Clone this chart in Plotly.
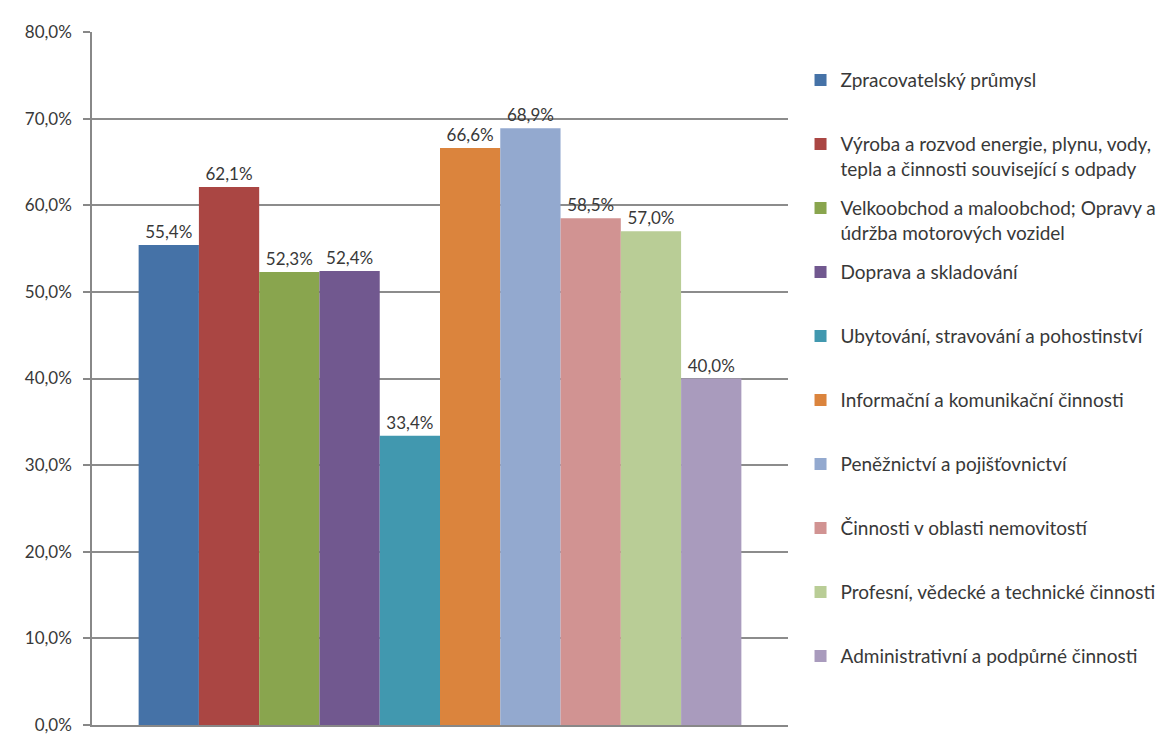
import plotly.graph_objects as go

categories = [
    "Zpracovatelský průmysl",
    "Výroba a rozvod energie, plynu, vody,<br>tepla a činnosti související s odpady",
    "Velkoobchod a maloobchod; Opravy a<br>údržba motorových vozidel",
    "Doprava a skladování",
    "Ubytování, stravování a pohostinství",
    "Informační a komunikační činnosti",
    "Peněžnictví a pojišťovnictví",
    "Činnosti v oblasti nemovitostí",
    "Profesní, vědecké a technické činnosti",
    "Administrativní a podpůrné činnosti",
]
values = [0.554, 0.621, 0.523, 0.524, 0.334, 0.666, 0.689, 0.585, 0.570, 0.400]
colors = ["#4572A7", "#AA4643", "#89A54E", "#71588F", "#4198AF",
          "#DB843D", "#93A9CF", "#D19392", "#B9CD96", "#A99BBD"]
y_ticks = [0, 0.1, 0.2, 0.3, 0.4, 0.5, 0.6, 0.7, 0.8]

FONT = "Lato"
TXT = "#383838"

fig = go.Figure()
for name, v, c in zip(categories, values, colors):
    legend_name = name if "<br>" in name else name + "<br> "
    fig.add_trace(go.Bar(
        x=[""], y=[v], name=legend_name, legendgroup=name,
        marker=dict(color=c, line=dict(width=0)),
        text=[v], texttemplate="%{y:.1%}", textposition="outside",
        textfont=dict(family=FONT, size=17, color=TXT),
        cliponaxis=False,
    ))

fig.update_layout(
    width=1163, height=736,
    margin=dict(l=92, r=375, t=32, b=11, autoexpand=False),
    paper_bgcolor="white", plot_bgcolor="white",
    separators=", ",
    barmode="group", bargap=0.134, bargroupgap=0,
    font=dict(family=FONT, size=17, color=TXT),
    showlegend=True,
    legend=dict(
        x=1.018, xanchor="left", y=0.958, yanchor="top",
        valign="top", tracegroupgap=11.6,
        font=dict(family=FONT, size=19, color=TXT),
        itemwidth=30, bgcolor="rgba(0,0,0,0)",
    ),
    xaxis=dict(showticklabels=False, showgrid=False, zeroline=False,
               automargin=False,
               showline=True, linecolor="#888888", linewidth=1.5, ticks=""),
    yaxis=dict(range=[0, 0.8], tickvals=y_ticks, tickformat=".1%",
               automargin=False,
               showgrid=True, gridcolor="#8c8c8c", gridwidth=1.5,
               zeroline=False, showline=True, linecolor="#888888", linewidth=1.5,
               ticks="outside", ticklen=7, tickcolor="#888888", tickwidth=1.5,
               ticklabelstandoff=8,
               tickfont=dict(family=FONT, size=17, color=TXT)),
)

fig.write_html("out.html")
